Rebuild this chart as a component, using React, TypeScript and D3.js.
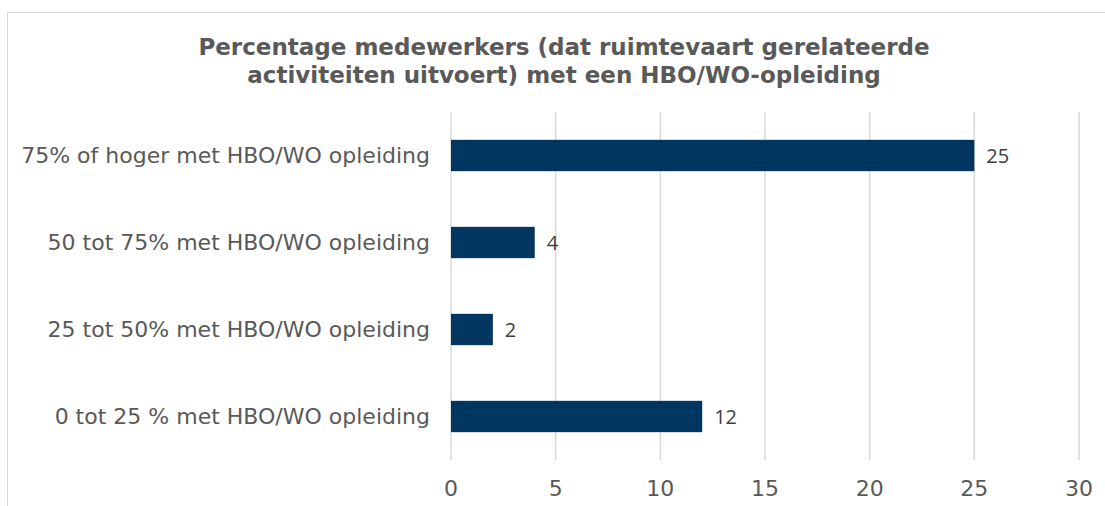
import * as d3 from "d3";

const categories = [
  "75% of hoger met HBO/WO opleiding",
  "50 tot 75% met HBO/WO opleiding",
  "25 tot 50% met HBO/WO opleiding",
  "0 tot 25 % met HBO/WO opleiding",
];
const values = [25, 4, 2, 12];
const xTicks = [0, 5, 10, 15, 20, 25, 30];
const titleLines = [
  "Percentage medewerkers (dat ruimtevaart gerelateerde",
  "activiteiten uitvoert) met een HBO/WO-opleiding",
];

export default function App() {
  const width = 1105;
  const height = 506;
  const margin = { top: 112, right: 26, bottom: 46, left: 451 };
  const innerW = 1079 - margin.left;
  const innerH = 460 - margin.top;

  const x = d3.scaleLinear().domain([0, 30]).range([0, innerW]);
  const y = d3
    .scaleBand<string>()
    .domain(categories)
    .range([0, innerH])
    .paddingInner(0.64)
    .paddingOuter(0.32);

  return (
    <svg
      width={width}
      height={height}
      style={{ position: "absolute", left: 0, top: 0, background: "#fff" }}
    >
      <rect x={7.5} y={12.5} width={1120} height={520} fill="#fff" stroke="#d9d9d9" />
      <g fontFamily="'DejaVu Sans', Verdana, sans-serif" fontWeight="bold" fontSize={23} fill="#595959" textAnchor="middle">
        {titleLines.map((t, i) => (
          <text key={i} x={564} y={55 + i * 28}>
            {t}
          </text>
        ))}
      </g>
      <g transform={`translate(${margin.left},${margin.top})`}>
        {xTicks.map((t) => (
          <line key={t} x1={x(t)} x2={x(t)} y1={0} y2={innerH} stroke="#d9d9d9" strokeWidth={1.5} />
        ))}
        {categories.map((c, i) => (
          <rect key={c} x={x(0)} y={y(c)} width={x(values[i]) - x(0)} height={y.bandwidth()} fill="#003660" />
        ))}
        {categories.map((c, i) => (
          <text
            key={c + "v"}
            x={x(values[i]) + 12}
            y={(y(c) ?? 0) + y.bandwidth() / 2}
            dy="0.35em"
            fontFamily="'Open Sans', sans-serif"
            fontSize={20}
            fill="#404040"
          >
            {values[i]}
          </text>
        ))}
        {categories.map((c) => (
          <text
            key={c + "l"}
            x={-21}
            y={(y(c) ?? 0) + y.bandwidth() / 2}
            dy="0.35em"
            textAnchor="end"
            fontFamily="'DejaVu Sans', Verdana, sans-serif"
            fontSize={22}
            fill="#595959"
          >
            {c}
          </text>
        ))}
        {xTicks.map((t) => (
          <text
            key={t + "t"}
            x={x(t)}
            y={innerH + 36}
            textAnchor="middle"
            fontFamily="'DejaVu Sans', Verdana, sans-serif"
            fontSize={22}
            fill="#595959"
          >
            {t}
          </text>
        ))}
      </g>
    </svg>
  );
}
